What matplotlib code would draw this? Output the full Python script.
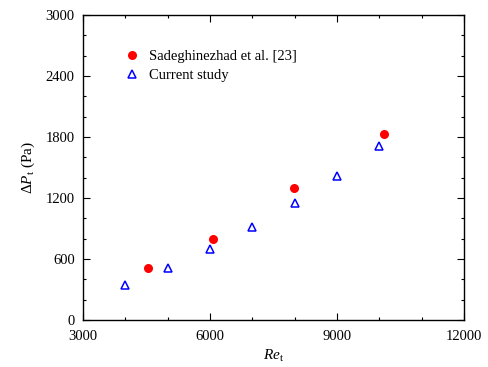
import matplotlib
matplotlib.use("Agg")
import matplotlib.pyplot as plt
from matplotlib.ticker import MultipleLocator

plt.rcParams['font.family'] = ['Liberation Serif', 'DejaVu Serif']
plt.rcParams['mathtext.fontset'] = 'custom'
plt.rcParams['mathtext.rm'] = 'Liberation Serif'
plt.rcParams['mathtext.it'] = 'Liberation Serif:italic'

# Sadeghinezhad et al. [23]
ref_re = [4530, 6060, 7990, 10100]
ref_dp = [508, 800, 1300, 1830]

# current study
cur_re = [4000, 5000, 6000, 7000, 8000, 9000, 10000]
cur_dp = [345, 510, 695, 912, 1155, 1418, 1708]

fig = plt.figure(figsize=(4.88, 3.67), dpi=100)
ax = fig.add_axes([0.170, 0.128, 0.781, 0.831])

ax.plot(ref_re, ref_dp, 'o', color='#ff0000', markersize=6.5, markeredgewidth=0,
        label='Sadeghinezhad et al. [23]')
ax.plot(cur_re, cur_dp, '^', color='#0000ff', markerfacecolor='none', markersize=6,
        markeredgewidth=1.1, label='Current study')

ax.set_xlim(3000, 12000)
ax.set_ylim(0, 3000)
ax.xaxis.set_major_locator(MultipleLocator(3000))
ax.xaxis.set_minor_locator(MultipleLocator(1000))
ax.yaxis.set_major_locator(MultipleLocator(600))
ax.yaxis.set_minor_locator(MultipleLocator(200))
ax.tick_params(which='both', direction='in', top=True, right=True, labelsize=10.5, width=0.8)
ax.tick_params(which='major', length=5)
ax.tick_params(which='minor', length=2.5)
ax.tick_params(axis='x', which='major', pad=7)
ax.tick_params(axis='y', which='major', pad=6)
for s in ax.spines.values():
    s.set_linewidth(1.0)

ax.set_xlabel(r'$\mathit{Re}_{\mathrm{t}}$', fontsize=11, labelpad=4)
ax.set_ylabel(r'$\mathit{\Delta P}_{\mathrm{t}}$ (Pa)', fontsize=11, labelpad=6)

ax.legend(loc='upper left', bbox_to_anchor=(0.07, 0.93), frameon=False, fontsize=10.5,
          handletextpad=0.6, labelspacing=0.45, handlelength=1.2)

fig.savefig('out.png', dpi=100)
